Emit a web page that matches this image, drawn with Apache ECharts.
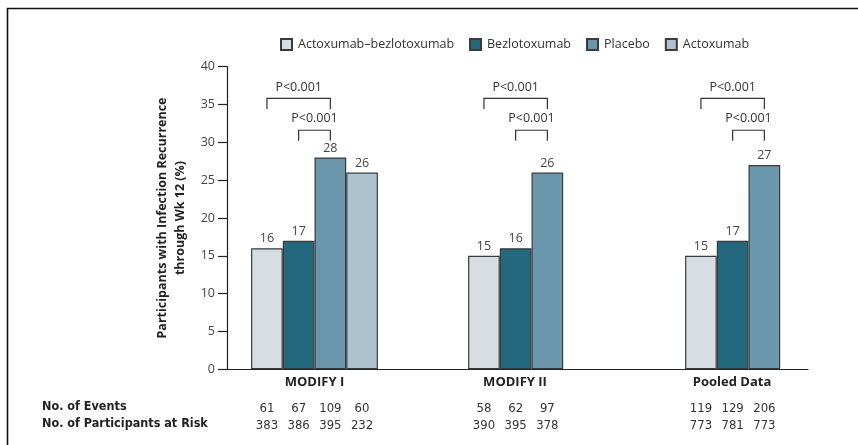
<!DOCTYPE html>
<html>
<head>
<meta charset="utf-8">
<script src="https://cdn.jsdelivr.net/npm/echarts@6/dist/echarts.min.js"></script>
<style>
  html, body { margin: 0; padding: 0; background: #fff; }
  #chart { width: 858px; height: 445px; }
</style>
</head>
<body>
<div id="chart"></div>
<script>
// Trial groups along the x axis
const categories = ['MODIFY I', 'MODIFY II', 'Pooled Data'];
const seriesNames = ['Actoxumab\u2013bezlotoxumab', 'Bezlotoxumab', 'Placebo', 'Actoxumab'];

// Recurrence through week 12 (%)
const comboRate   = [16, 15, 15];
const bezloRate   = [17, 16, 17];
const placeboRate = [28, 26, 27];
const actoRate    = [26, null, null];

// Number of events
const comboEvents   = [61, 58, 119];
const bezloEvents   = [67, 62, 129];
const placeboEvents = [109, 97, 206];
const actoEvents    = [60, null, null];

// Number of participants at risk
const comboRisk   = [383, 390, 773];
const bezloRisk   = [386, 395, 781];
const placeboRisk = [395, 378, 773];
const actoRisk    = [232, null, null];

// Pairwise comparisons shown above each group (bar slot indices)
const comparisons = [
  { from: 0, to: 2, text: 'P<0.001' },
  { from: 1, to: 2, text: 'P<0.001' }
];

const yTicks = [0, 5, 10, 15, 20, 25, 30, 35, 40];
const tableRows = ['No. of Events', 'No. of Participants at Risk'];

const rates  = [comboRate, bezloRate, placeboRate, actoRate];
const events = [comboEvents, bezloEvents, placeboEvents, actoEvents];
const risks  = [comboRisk, bezloRisk, placeboRisk, actoRisk];
const colors = ['#d6dde3', '#24687e', '#6a97ab', '#acc3cf'];

const FONT = '"Open Sans", "Noto Sans", sans-serif';
const NARROW = '"Liberation Sans Narrow", "DejaVu Sans Condensed", "Open Sans", sans-serif';
const BAR_W = 31.7;

const chart = echarts.init(document.getElementById('chart'), null, { renderer: 'canvas' });

const barSeries = seriesNames.map((name, k) => ({
  name: name,
  type: 'bar',
  xAxisIndex: 1,
  yAxisIndex: 1,
  barWidth: BAR_W,
  barGap: '0%',
  data: rates[k].map(v => (v == null ? '-' : v)),
  itemStyle: { color: colors[k], borderColor: '#3a3a3a', borderWidth: 1.2 },
  label: {
    show: true,
    position: 'top',
    distance: 3,
    fontFamily: FONT,
    fontSize: 12.5,
    color: '#444'
  },
  emphasis: { disabled: true },
  animation: false
}));

// Brackets with P values and the counts table under each bar
const overlaySeries = {
  type: 'custom',
  xAxisIndex: 1,
  yAxisIndex: 1,
  silent: true,
  clip: false,
  animation: false,
  encode: { x: 0 },
  data: categories.map((c, i) => [i]),
  renderItem: function (params, api) {
    const i = api.value(0);
    const base = api.coord([i, 0]);
    const slotX = s => base[0] + (s - 1.5) * BAR_W;
    const children = [];
    const levels = [
      { top: 35.8, leg: 34.4, txt: 37.2 },
      { top: 31.6, leg: 30.2, txt: 33.2 }
    ];
    comparisons.forEach((cmp, n) => {
      const lv = levels[n];
      const x1 = slotX(cmp.from), x2 = slotX(cmp.to);
      const yTop = api.coord([i, lv.top])[1];
      const yLeg = api.coord([i, lv.leg])[1];
      children.push({
        type: 'polyline',
        shape: { points: [[x1, yLeg], [x1, yTop], [x2, yTop], [x2, yLeg]] },
        style: { stroke: '#333', lineWidth: 1.2, fill: null }
      });
      children.push({
        type: 'text',
        style: {
          x: (x1 + x2) / 2, y: api.coord([i, lv.txt])[1],
          text: cmp.text, align: 'center', verticalAlign: 'middle',
          font: '12.5px ' + FONT, fill: '#333'
        }
      });
    });
    for (let s = 0; s < 4; s++) {
      if (events[s][i] == null) continue;
      children.push({
        type: 'text',
        style: {
          x: slotX(s), y: base[1] + 39, text: String(events[s][i]),
          align: 'center', verticalAlign: 'middle',
          font: '13px ' + NARROW, fill: '#333'
        }
      });
      children.push({
        type: 'text',
        style: {
          x: slotX(s), y: base[1] + 56, text: String(risks[s][i]),
          align: 'center', verticalAlign: 'middle',
          font: '13px ' + NARROW, fill: '#333'
        }
      });
    }
    return { type: 'group', children: children };
  }
};

const option = {
  backgroundColor: '#fff',
  textStyle: { fontFamily: FONT },
  legend: {
    data: seriesNames,
    left: 275,
    top: 33,
    itemWidth: 11,
    itemHeight: 11,
    itemGap: 15,
    icon: 'rect',
    selectedMode: false,
    textStyle: { fontFamily: FONT, fontSize: 12.5, color: '#333', padding: [0, 0, 0, 1] }
  },
  grid: [
    { left: 227, right: 50, top: 66.7, bottom: 75.7 },
    { left: 206, width: 651, top: 66.7, bottom: 75.7 }
  ],
  xAxis: [
    {
      type: 'value', gridIndex: 0, min: 0, max: 1,
      axisLine: { show: true, lineStyle: { color: '#222', width: 1.2 } },
      axisTick: { show: false }, axisLabel: { show: false }, splitLine: { show: false }
    },
    {
      type: 'category', gridIndex: 1, data: categories,
      axisLine: { show: false }, axisTick: { show: false },
      axisLabel: {
        margin: 6,
        formatter: function (v, idx) { return idx === 0 ? '{a|' + v + '}' : '{b|' + v + '}'; },
        rich: {
          a: { fontFamily: FONT, fontWeight: 'bold', fontSize: 13, color: '#222' },
          b: { fontFamily: FONT, fontWeight: 'bold', fontSize: 13, color: '#222', padding: [0, 33, 0, 0] }
        }
      }
    }
  ],
  yAxis: [
    {
      type: 'value', gridIndex: 0, min: 0, max: 40, interval: 5,
      axisLine: { show: true, lineStyle: { color: '#222', width: 1.2 } },
      axisTick: { show: true, length: 9, lineStyle: { color: '#222', width: 1.2 } },
      axisLabel: {
        margin: 12, fontFamily: FONT, fontSize: 12.5, color: '#444',
        formatter: v => (yTicks.indexOf(v) >= 0 ? String(v) : '')
      },
      splitLine: { show: false },
      name: 'Participants with Infection Recurrence\nthrough Wk 12 (%)',
      nameLocation: 'middle',
      nameGap: 37,
      nameTextStyle: { fontFamily: FONT, fontWeight: 'bold', fontSize: 12.5, color: '#222', lineHeight: 18 }
    },
    {
      type: 'value', gridIndex: 1, min: 0, max: 40, show: false
    }
  ],
  graphic: [
    {
      type: 'polyline', silent: true,
      shape: { points: [[7.5, 445], [7.5, 8.5], [858, 8.5]] },
      style: { stroke: '#111', lineWidth: 1.6, fill: null }
    },
    {
      type: 'text', left: 42, top: 400,
      style: { text: tableRows[0], font: 'bold 12.5px ' + NARROW, fill: '#222' }
    },
    {
      type: 'text', left: 42, top: 417,
      style: { text: tableRows[1], font: 'bold 12.5px ' + NARROW, fill: '#222' }
    }
  ],
  series: barSeries.concat([overlaySeries]),
  animation: false
};

chart.setOption(option);
</script>
</body>
</html>
